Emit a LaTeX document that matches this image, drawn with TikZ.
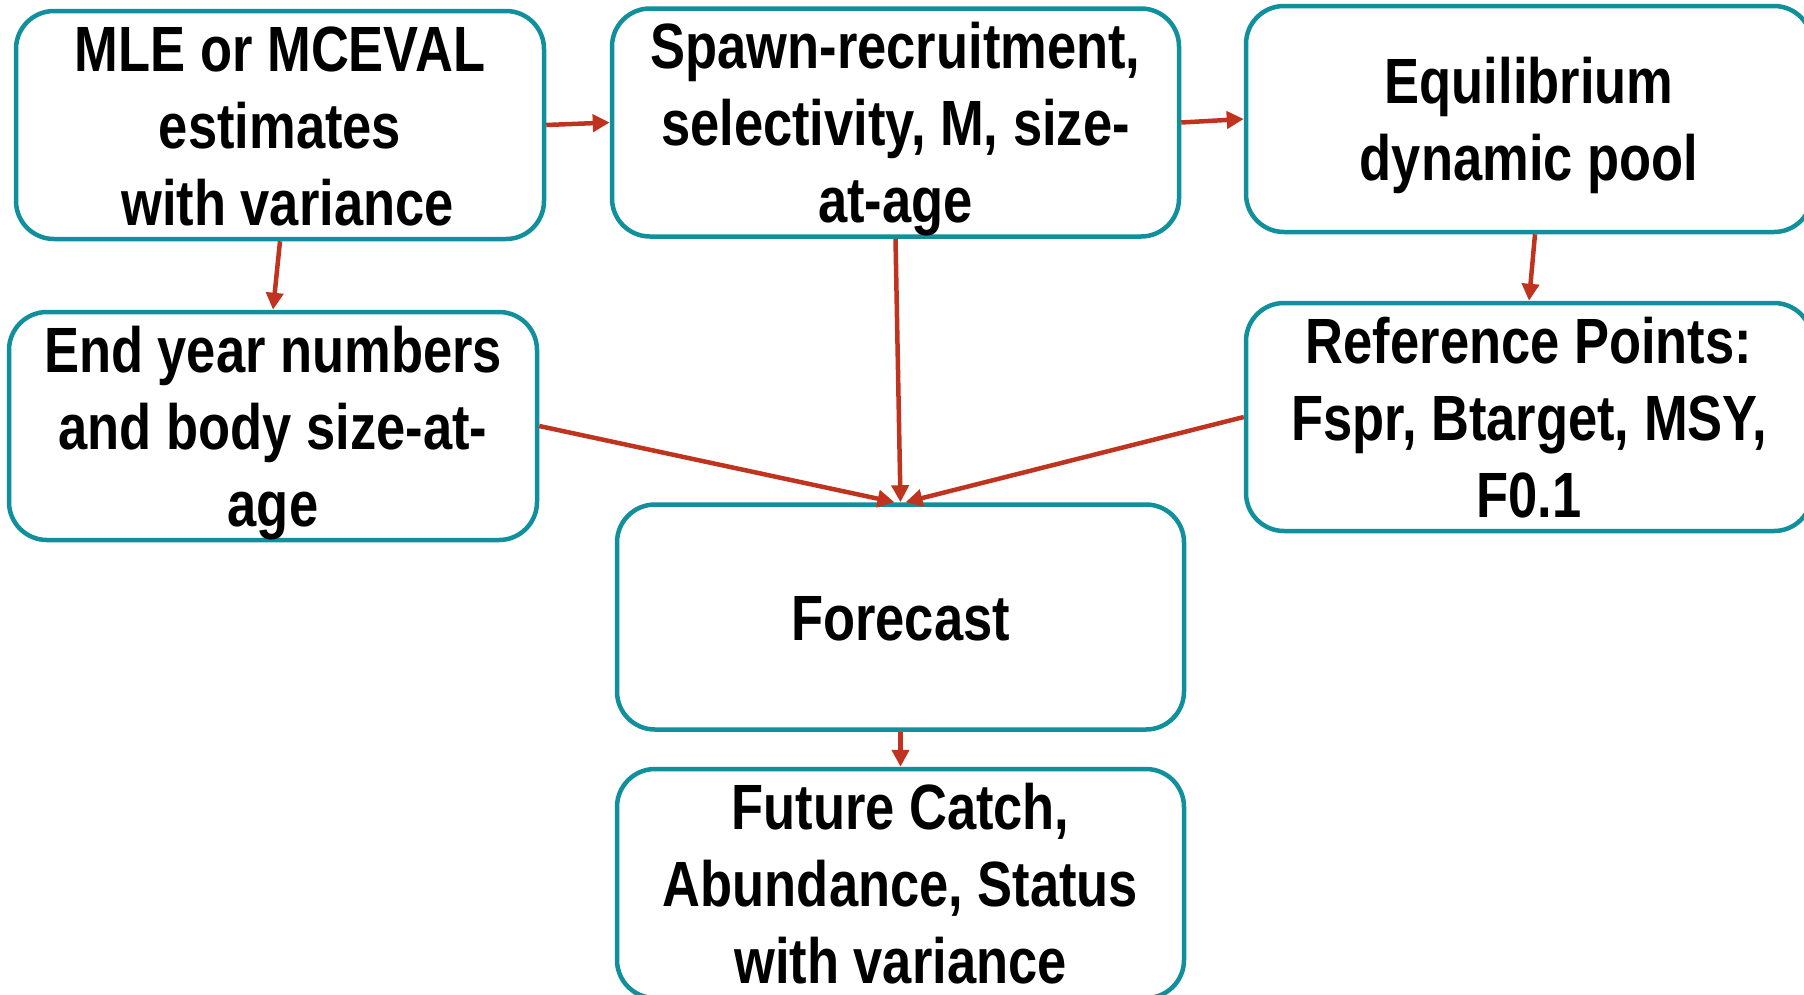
\documentclass[tikz,border=0pt]{standalone}
\usepackage{fontspec}
\newfontfamily\nar{Liberation Sans Bold}[FakeStretch=0.82]
\usetikzlibrary{arrows.meta}
\definecolor{boxteal}{HTML}{10909C}
\definecolor{arrred}{HTML}{C0341F}
\newcommand\ls{\rule[-14pt]{0pt}{74pt}}
\begin{document}
\begin{tikzpicture}[x=1pt,y=-1pt,
  flowbox/.style={draw=boxteal, line width=4.5pt, rounded corners=38pt, fill=white,
    align=center, inner sep=0pt, font=\nar\fontsize{64}{77}\selectfont},
  flowarrow/.style={draw=arrred, line width=4.5pt, -{Triangle[length=17pt,width=17pt]}}]
\useasboundingbox (0,0) rectangle (1804,994);
\node[flowbox, minimum width=528pt, minimum height=226pt] (b1) at (280,125)
  {\ls MLE or MCEVAL\\estimates\\\hspace*{15pt}with variance\ls};
\node[flowbox, minimum width=567pt, minimum height=227pt] (b2) at (895.5,122.5)
  {\ls Spawn-recruitment,\\selectivity, M, size-\\at-age\ls};
\node[flowbox, minimum width=566pt, minimum height=226pt] (b3) at (1529,119)
  {\ls Equilibrium\\dynamic pool\ls};
\node[flowbox, minimum width=528pt, minimum height=226pt] (b4) at (273,426)
  {\ls End year numbers\\and body size-at-\\age\ls};
\node[flowbox, minimum width=566pt, minimum height=226pt] (b5) at (1529,417)
  {\ls Reference Points:\\Fspr, Btarget, MSY,\\F0.1\ls};
\node[flowbox, minimum width=567pt, minimum height=225pt] (b6) at (900.5,617)
  {\ls Forecast\ls};
\node[flowbox, minimum width=567pt, minimum height=229pt] (b7) at (900.5,883.5)
  {\ls Future Catch,\\Abundance, Status\\with variance\ls};
\draw[flowarrow] (b1.east) -- (b2.west);
\draw[flowarrow] (b2.east) -- (b3.west);
\draw[flowarrow] (b1.south) -- (b4.north);
\draw[flowarrow] ([xshift=6pt]b3.south) -- (b5.north);
\draw[flowarrow] (b2.south) -- (b6.north);
\draw[flowarrow] (b4.east) -- ([xshift=-6pt]b6.north);
\draw[flowarrow] (b5.west) -- ([xshift=5pt]b6.north);
\draw[flowarrow] (b6.south) -- (b7.north);
\end{tikzpicture}
\end{document}
